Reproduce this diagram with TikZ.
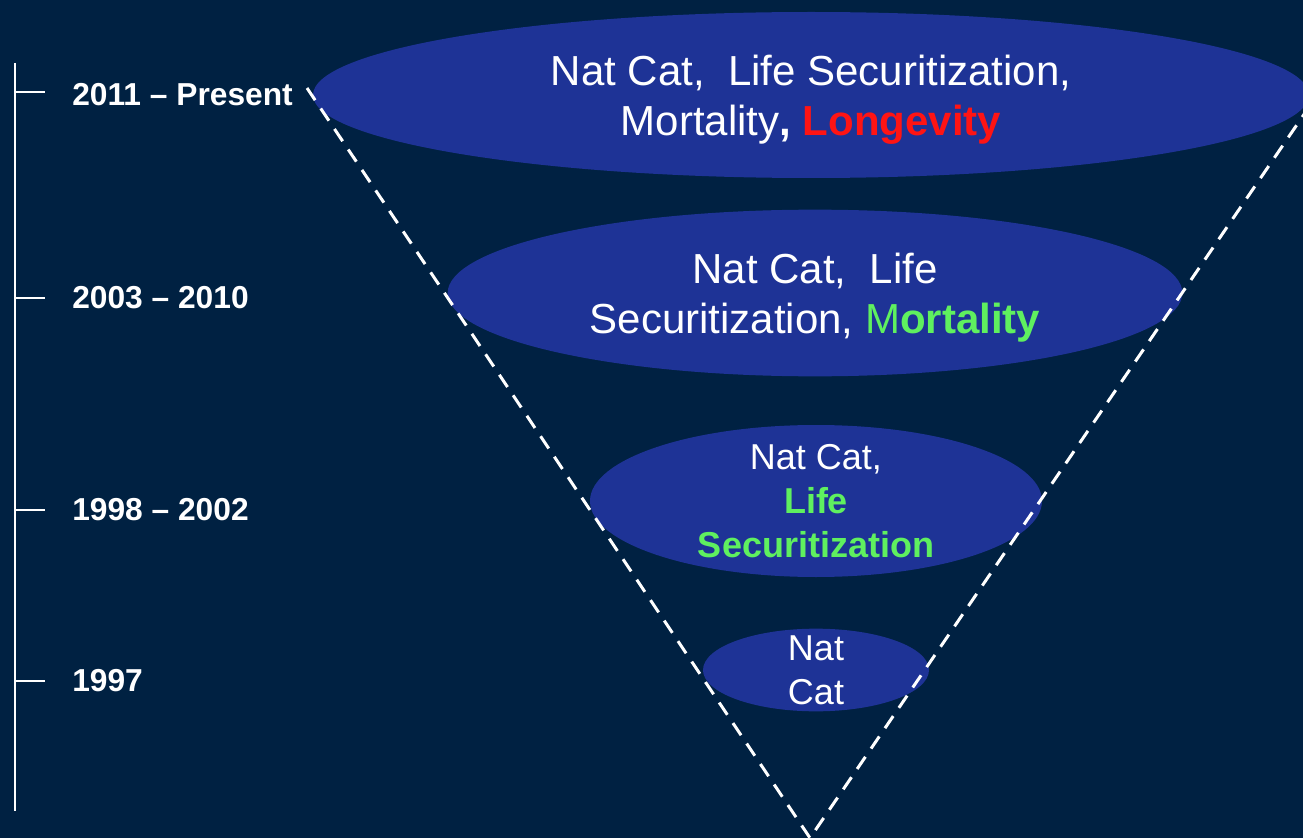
\documentclass[tikz,border=0pt]{standalone}
\usepackage{fontspec}
\setmainfont{Liberation Sans}
\usetikzlibrary{shapes.geometric}
\definecolor{navybg}{RGB}{0,33,66}
\definecolor{bandblue}{RGB}{30,51,150}
\definecolor{mortgreen}{RGB}{95,240,95}
\definecolor{longred}{RGB}{255,20,20}
\newcommand{\bigtxt}{\fontsize{31.5}{37.5}\selectfont}
\newcommand{\midtxt}{\fontsize{27}{33}\selectfont}

\begin{document}
\begin{tikzpicture}[x=0.75pt,y=-0.75pt,
    band/.style={ellipse, fill=bandblue, inner xsep=0pt, inner ysep=-6pt, text depth=0pt, text=white, align=center},
    era/.style={anchor=west, inner sep=0pt, text=white, font=\fontsize{23.8}{28}\selectfont\bfseries},
    cone/.style={draw=white, line width=2.25pt, dash pattern=on 11pt off 7.5pt},
    axis/.style={draw=white, line width=1.5pt}]
    \fill[navybg] (0,0) rectangle (1303,838);
    \useasboundingbox (0,0) rectangle (1303,838);

    \node[band, minimum width=747pt, minimum height=124.5pt, font=\bigtxt] (e2011) at (811,95)
        {Nat Cat,\ \ Life Securitization,\\Mortality\textbf{, }\textcolor{longred}{\textbf{Longevity}}};
    \node[band, minimum width=551pt, minimum height=125pt, font=\bigtxt] (e2003) at (815,293)
        {Nat Cat,\ \ Life\\Securitization, \textcolor{mortgreen}{M\textbf{ortality}}};
    \node[band, minimum width=339pt, minimum height=114pt, font=\midtxt] (e1998) at (816,501)
        {Nat Cat,\\\textcolor{mortgreen}{\textbf{Life}}\\\textcolor{mortgreen}{\textbf{Securitization}}};
    \node[band, minimum width=169.5pt, minimum height=62pt, font=\midtxt] (e1997) at (816,670)
        {Nat\\Cat};

    \coordinate (lefttop) at (307,88);
    \coordinate (apex) at (810,838);
    \coordinate (righttop) at (1322,88);
    \draw[cone] (lefttop) -- (apex) -- (righttop);

    \coordinate (axtop) at (15,63);
    \coordinate (axbot) at (15,811);
    \draw[axis] (axtop) -- (axbot);
    \foreach \y/\ly/\yr in {92/95/2011 – Present, 298/298/2003 – 2010, 510/510/1998 – 2002, 681/681/1997} {
        \coordinate (tick\y) at (15,\y);
        \draw[axis] (tick\y) -- ++(30,0);
        \node[era] (yr\y) at (72,\ly) {\yr};
    }
\end{tikzpicture}
\end{document}
